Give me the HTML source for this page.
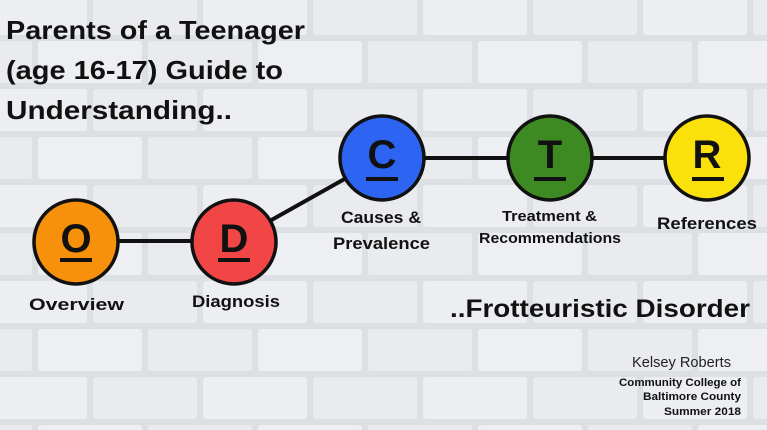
<!DOCTYPE html>
<html><head><meta charset="utf-8"><style>
html,body{margin:0;padding:0;}
body{width:767px;height:430px;overflow:hidden;background:#e3e5e9;}
svg{display:block;font-family:"Liberation Sans",sans-serif;}
</style></head><body>
<svg width="767" height="430" viewBox="0 0 767 430">
<defs>
<pattern id="tiles" x="-20" y="-10" width="220" height="96" patternUnits="userSpaceOnUse">
<rect width="220" height="96" fill="#dcdfe3"/>
<rect x="3" y="3" width="104" height="42" rx="3" fill="#eceef1"/>
<rect x="113" y="3" width="104" height="42" rx="3" fill="#e9ebee"/>
<rect x="-52" y="51" width="104" height="42" rx="3" fill="#e9ebee"/>
<rect x="58" y="51" width="104" height="42" rx="3" fill="#edeff2"/>
<rect x="168" y="51" width="104" height="42" rx="3" fill="#e9ebee"/>
</pattern>
</defs>
<rect width="767" height="430" fill="url(#tiles)"/>
<g font-weight="bold" font-size="26" fill="#111" lengthAdjust="spacingAndGlyphs">
<text x="6" y="39" textLength="299" lengthAdjust="spacingAndGlyphs">Parents of a Teenager</text>
<text x="6" y="79" textLength="277" lengthAdjust="spacingAndGlyphs">(age 16-17) Guide to</text>
<text x="6" y="119" textLength="226" lengthAdjust="spacingAndGlyphs">Understanding..</text>
</g>
<g stroke="#111" stroke-width="4" fill="none">
<polyline points="76,241 234,241 382,158 707,158"/>
</g>
<g stroke="#111" stroke-width="3.5">
<circle cx="76" cy="242" r="42" fill="#f7900a"/>
<circle cx="234" cy="242" r="42" fill="#f24545"/>
<circle cx="382" cy="158" r="42" fill="#2e64f2"/>
<circle cx="550" cy="158" r="42" fill="#3d8a22"/>
<circle cx="707" cy="158" r="42" fill="#fbe10c"/>
</g>
<g font-weight="bold" font-size="40" fill="#111" text-anchor="middle">
<text x="76" y="252">O</text>
<text x="234" y="252">D</text>
<text x="382" y="168">C</text>
<text x="550" y="168">T</text>
<text x="707" y="168">R</text>
</g>
<g fill="#111">
<rect x="60" y="258" width="32" height="4"/>
<rect x="218" y="258" width="32" height="4"/>
<rect x="366" y="177" width="32" height="4"/>
<rect x="534" y="177" width="32" height="4"/>
<rect x="692" y="177" width="32" height="4"/>
</g>
<g font-weight="bold" font-size="17" fill="#111">
<text x="29" y="310" textLength="95" lengthAdjust="spacingAndGlyphs">Overview</text>
<text x="192" y="307" textLength="88" lengthAdjust="spacingAndGlyphs">Diagnosis</text>
<text x="341" y="223" textLength="80" lengthAdjust="spacingAndGlyphs">Causes &amp;</text>
<text x="333" y="249" textLength="97" lengthAdjust="spacingAndGlyphs">Prevalence</text>
<text x="657" y="229" textLength="100" lengthAdjust="spacingAndGlyphs">References</text>
<text x="502" y="221" font-size="15" textLength="95" lengthAdjust="spacingAndGlyphs">Treatment &amp;</text>
<text x="479" y="243" font-size="15" textLength="142" lengthAdjust="spacingAndGlyphs">Recommendations</text>
</g>
<text x="450" y="317" font-weight="bold" font-size="25" fill="#111" textLength="300" lengthAdjust="spacingAndGlyphs">..Frotteuristic Disorder</text>
<text x="632" y="367" font-size="15" fill="#222" textLength="99" lengthAdjust="spacingAndGlyphs">Kelsey Roberts</text>
<g font-weight="bold" font-size="11" fill="#111">
<text x="619" y="386" textLength="122" lengthAdjust="spacingAndGlyphs">Community College of</text>
<text x="643" y="400" textLength="98" lengthAdjust="spacingAndGlyphs">Baltimore County</text>
<text x="664" y="415" textLength="77" lengthAdjust="spacingAndGlyphs">Summer 2018</text>
</g>
</svg>
</body></html>
